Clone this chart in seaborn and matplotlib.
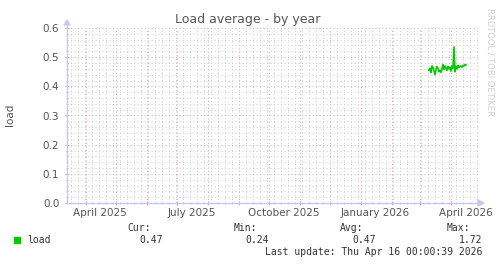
import numpy as np
import pandas as pd
import matplotlib
matplotlib.use("Agg")
import matplotlib.pyplot as plt
import matplotlib.dates as mdates
import seaborn as sns

# ---- data ----
start_day = "2026-03-10"
load_values = [0.455, 0.462, 0.448, 0.470, 0.465, 0.452, 0.440, 0.458, 0.468, 0.460,
               0.450, 0.455, 0.448, 0.462, 0.475, 0.458, 0.470, 0.462, 0.455, 0.468,
               0.460, 0.465, 0.452, 0.470, 0.462, 0.535, 0.450, 0.468, 0.460, 0.472,
               0.465, 0.470, 0.468, 0.466, 0.472, 0.470, 0.475, 0.473]
x_labels = ["April 2025", "July 2025", "October 2025", "January 2026", "April 2026"]
x_label_dates = ["2025-04-15", "2025-07-16", "2025-10-16", "2026-01-15", "2026-04-16"]
legend_headers = ["Cur:", "Min:", "Avg:", "Max:"]
legend_values = ["0.47", "0.24", "0.47", "1.72"]
series_name = "load"
title = "Load average - by year"
last_update = "Last update: Thu Apr 16 00:00:39 2026"
x_start, x_end = "2025-03-13", "2026-04-28"

df = pd.DataFrame({
    "date": pd.date_range(start_day, periods=len(load_values), freq="D"),
    "load": load_values,
})

W, H = 497, 264
fig = plt.figure(figsize=(W / 100, H / 100), dpi=100)
fig.patch.set_facecolor("white")
ax = fig.add_axes([67 / W, (H - 203) / H, 411 / W, 175 / H])
ax.set_facecolor("white")

txt = "#555555"
red = "#eaa0a0"
gray = "#cccccc"
axcol = "#c8c8f0"
dot = (0, (1.4, 2.8))

sns.lineplot(data=df, x="date", y="load", ax=ax, color="#00cc00", linewidth=1.2, zorder=5)

ax.set_xlim(pd.Timestamp(x_start), pd.Timestamp(x_end))
ax.set_ylim(0, 0.6)

ax.xaxis.set_major_locator(mdates.MonthLocator())
ax.xaxis.set_minor_locator(mdates.WeekdayLocator(byweekday=mdates.MO))
ax.yaxis.set_major_locator(matplotlib.ticker.MultipleLocator(0.1))
ax.yaxis.set_minor_locator(matplotlib.ticker.MultipleLocator(0.02))

ax.grid(which="minor", color=gray, linestyle=dot, linewidth=0.6, zorder=1)
ax.grid(which="major", color=red, linestyle=dot, linewidth=0.6, zorder=2)
ax.set_axisbelow(True)

ax.set_xticklabels([])
ax.tick_params(axis="x", which="major", length=3, color=red, direction="inout", labelbottom=False)
ax.tick_params(axis="x", which="minor", length=2, color=gray, direction="inout")
ax.tick_params(axis="y", which="major", length=3, color=red, direction="inout",
               labelsize=7.5, labelcolor=txt, pad=4)
ax.tick_params(axis="y", which="minor", length=2, color=gray, direction="inout")
ax.yaxis.set_major_formatter(matplotlib.ticker.FormatStrFormatter("%.1f"))

for d, lab in zip(x_label_dates, x_labels):
    ax.text(pd.Timestamp(d), -0.033, lab, ha="center", va="center", fontsize=7.5,
            color=txt, transform=ax.transData, clip_on=False)

for s in ["top", "right"]:
    ax.spines[s].set_visible(False)
for s in ["left", "bottom"]:
    ax.spines[s].set_color(axcol)
    ax.spines[s].set_linewidth(1)
ax.spines["left"].set_bounds(0, 0.62)
ax.set_xlabel("")
ax.set_ylabel("")

# axis arrows
fig.patches.append(matplotlib.patches.Polygon(
    [[64 / W, (H - 25) / H], [70 / W, (H - 25) / H], [67 / W, (H - 20) / H]],
    closed=True, transform=fig.transFigure, color=axcol, figure=fig))
fig.patches.append(matplotlib.patches.Polygon(
    [[478 / W, (H - 200) / H], [478 / W, (H - 206) / H], [484 / W, (H - 203) / H]],
    closed=True, transform=fig.transFigure, color=axcol, figure=fig))
fig.lines.append(matplotlib.lines.Line2D([478 / W, 480 / W], [(H - 203) / H] * 2,
                                         transform=fig.transFigure, color=axcol, lw=1))

fig.text(248 / W, 1 - 19 / H, title, ha="center", va="center", fontsize=9, color=txt)
fig.text(10.5 / W, 1 - 115 / H, series_name, ha="center", va="center", rotation=90,
         fontsize=7.5, color=txt)
fig.text(490 / W, 1 - 8 / H, "RRDTOOL / TOBI OETIKER", ha="center", va="top",
         rotation=270, fontsize=6, color="#d0d0d0")

mono = "DejaVu Sans Mono"
hdr_right = [151, 257, 363, 470]
val_right = [163, 269, 376, 482]
for h, xr in zip(legend_headers, hdr_right):
    fig.text(xr / W, 1 - 228 / H, h, ha="right", va="center", fontsize=7, family=mono, color="#333333")
for v, xr in zip(legend_values, val_right):
    fig.text(xr / W, 1 - 240 / H, v, ha="right", va="center", fontsize=7, family=mono, color="#333333")
fig.patches.append(matplotlib.patches.Rectangle((14 / W, 1 - 243 / H), 6 / W, 6 / H,
                                                transform=fig.transFigure, color="#00cc00", figure=fig))
fig.text(27 / W, 1 - 240 / H, series_name, ha="left", va="center", fontsize=7, family=mono, color="#333333")
fig.text(482 / W, 1 - 252 / H, last_update, ha="right", va="center", fontsize=7, family=mono, color="#333333")

fig.savefig("out.png", dpi=100, facecolor="white")
